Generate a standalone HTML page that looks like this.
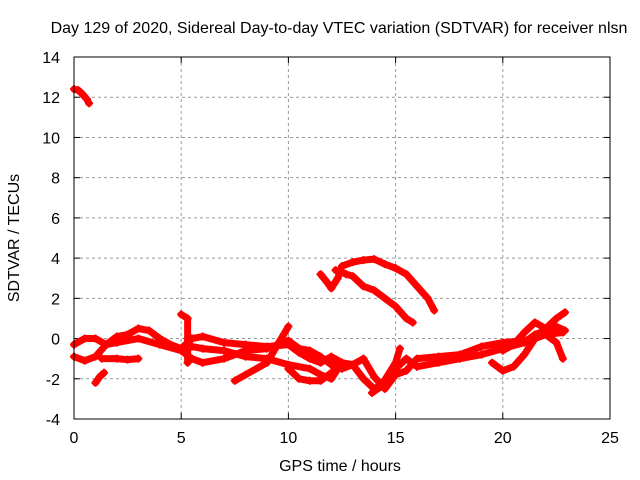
<!DOCTYPE html>
<html><head><meta charset="utf-8"><style>
body{margin:0;background:#fff;}
svg{display:block;font-family:"Liberation Sans",sans-serif;}
</style></head><body>
<svg id="chart" width="640" height="480" viewBox="0 0 640 480">
<rect width="640" height="480" fill="#fff"/>
<text x="339" y="33" font-size="16" text-anchor="middle" fill="#000">Day 129 of 2020, Sidereal Day-to-day VTEC variation (SDTVAR) for receiver nlsn</text>
<text x="340" y="471" font-size="16" text-anchor="middle">GPS time / hours</text>
<text transform="translate(19,238) rotate(-90)" font-size="16" text-anchor="middle">SDTVAR / TECUs</text>
<g id="grid"></g>
<g id="ticks"></g>
<g id="series"></g>
<rect x="74" y="57" width="536" height="362" fill="none" stroke="#000" stroke-width="1"/>
</svg>
<script>
const xTicks=[0,5,10,15,20,25];
const yTicks=[-4,-2,0,2,4,6,8,10,12,14];
const track1=[[0,12.4],[0.2,12.35],[0.4,12.15],[0.6,11.9],[0.7,11.7]];
const track2=[[11.5,3.2],[11.8,2.8],[12.0,2.5],[12.3,3.0],[12.5,3.6],[13.0,3.8],[13.5,3.9],[14.0,3.95],[14.5,3.7],[15.0,3.5],[15.5,3.2],[16.0,2.6],[16.5,2.0],[16.8,1.4]];
const track3=[[12.2,3.4],[12.7,3.2],[13.0,3.1],[13.5,2.6],[14.0,2.4],[14.5,2.0],[15.0,1.6],[15.5,1.0],[15.8,0.8]];
const track4=[[0,-0.9],[0.5,-1.1],[1.0,-0.9],[1.5,-0.3],[2,0.1],[2.5,0.2],[3,0.5],[3.5,0.4],[4,0.0],[4.5,-0.3],[5,-0.5],[5.5,0.0],[6,0.1],[7,-0.2],[8,-0.3],[9,-0.4],[10,-0.3],[10.5,-0.7],[11,-1.0],[11.5,-1.2],[12,-0.9],[12.5,-1.2],[13,-1.3],[13.5,-1.0],[14,-1.9],[14.5,-2.5],[15,-1.8],[15.5,-1.6],[16,-1.0],[17,-0.9],[18,-0.8],[19,-0.4],[20,-0.2],[21,-0.1],[22,0.2],[22.8,0.3]];
const track5=[[0,-0.3],[0.5,0.0],[1,0.0],[1.5,-0.3],[2,-0.2],[3,0.0],[4,-0.3],[5,-0.6],[5.5,-1.0],[6,-1.2],[7,-1.0],[8,-0.6],[9,-0.5],[10,-0.1],[10.5,-0.5],[11,-0.6],[11.5,-0.9],[12,-1.3],[12.5,-1.5],[13,-1.3],[13.5,-2.0],[14,-2.5],[14.5,-2.2],[15,-1.5],[15.5,-1.0],[16,-1.4],[17,-1.2],[18,-1.0],[19,-0.8],[20,-0.5],[21,-0.2],[21.5,0.2],[22,0.4],[22.5,0.6],[22.9,0.4]];
const track6=[[1.3,-1.0],[2,-1.0],[2.5,-1.05],[3,-1.0]];
const track7=[[5.5,-0.4],[6,-0.5],[7,-0.6],[8,-0.9],[9,-1.0],[10,-1.3],[11,-1.5],[11.5,-1.8],[12,-2.0],[12.5,-1.2]];
const track8=[[7.5,-2.1],[8,-1.8],[9,-1.2],[9.5,-0.3],[10,0.6]];
const track9=[[10,-1.5],[10.5,-2.0],[11,-2.1],[11.5,-2.1],[12,-1.7],[12.5,-1.3]];
const track10=[[19.5,-1.2],[20,-1.6],[20.5,-1.4],[21,-0.8],[21.5,0.0],[22,0.2],[22.5,-0.2],[22.8,-1.0]];
const track11=[[20,-0.6],[20.5,-0.3],[21,0.3],[21.5,0.8],[22,0.5],[22.5,1.0],[22.9,1.3]];
const track12=[[1.0,-2.2],[1.2,-1.9],[1.4,-1.7]];
const track13=[[5.0,1.2],[5.3,1.0],[5.3,0.0],[5.3,-1.2]];
const track14=[[13.9,-2.7],[14.3,-2.4],[15.0,-1.2],[15.2,-0.5]];
const tracks=[track1,track2,track3,track4,track5,track6,track7,track8,track9,track10,track11,track12,track13,track14];
const X0=74,X1=610,Y0=419,Y1=57;
const sx=h=>X0+(h-0)/(25-0)*(X1-X0);
const sy=v=>Y0-(v+4)/(14+4)*(Y0-Y1);
const NS="http://www.w3.org/2000/svg";
const grid=document.getElementById('grid'),ticks=document.getElementById('ticks'),ser=document.getElementById('series');
function mk(t,a,p){const e=document.createElementNS(NS,t);for(const k in a)e.setAttribute(k,a[k]);p.appendChild(e);return e;}
xTicks.forEach(t=>{const x=sx(t);
 if(t>0&&t<25){const g=mk('line',{x1:x,x2:x,y1:Y1,y2:Y0,stroke:'#999','stroke-dasharray':'3,3'},grid);
 
 }
 const l=mk('text',{x:x,y:Y0+24,'font-size':16,'text-anchor':'middle'},ticks);l.textContent=t;
 
 
 mk('line',{x1:x,x2:x,y1:Y0,y2:Y0-6,stroke:'#000'},ticks);mk('line',{x1:x,x2:x,y1:Y1,y2:Y1+6,stroke:'#000'},ticks);});
yTicks.forEach(t=>{const y=sy(t);
 if(t>-4&&t<14){const g=mk('line',{x1:X0,x2:X1,y1:y,y2:y,stroke:'#999','stroke-dasharray':'3,3'},grid);
 
 }
 const l=mk('text',{x:X0-14,y:y+6,'font-size':16,'text-anchor':'end'},ticks);l.textContent=t;
 
 
 mk('line',{x1:X0,x2:X0+6,y1:y,y2:y,stroke:'#000'},ticks);mk('line',{x1:X1,x2:X1-6,y1:y,y2:y,stroke:'#000'},ticks);});
tracks.forEach((tr,i)=>{
 const pl=mk('polyline',{points:tr.map(p=>sx(p[0])+','+sy(p[1])).join(' '),fill:'none',stroke:'#f00','stroke-width':7,'stroke-linejoin':'round','stroke-linecap':'round'},ser);
 
 
 tr.forEach(p=>{const x=sx(p[0]),y=sy(p[1]);
  const m=mk('path',{d:`M${x-4},${y}h8M${x},${y-4}v8`,stroke:'#f00','stroke-width':2},ser);
  
  });
});
</script>
</body></html>
